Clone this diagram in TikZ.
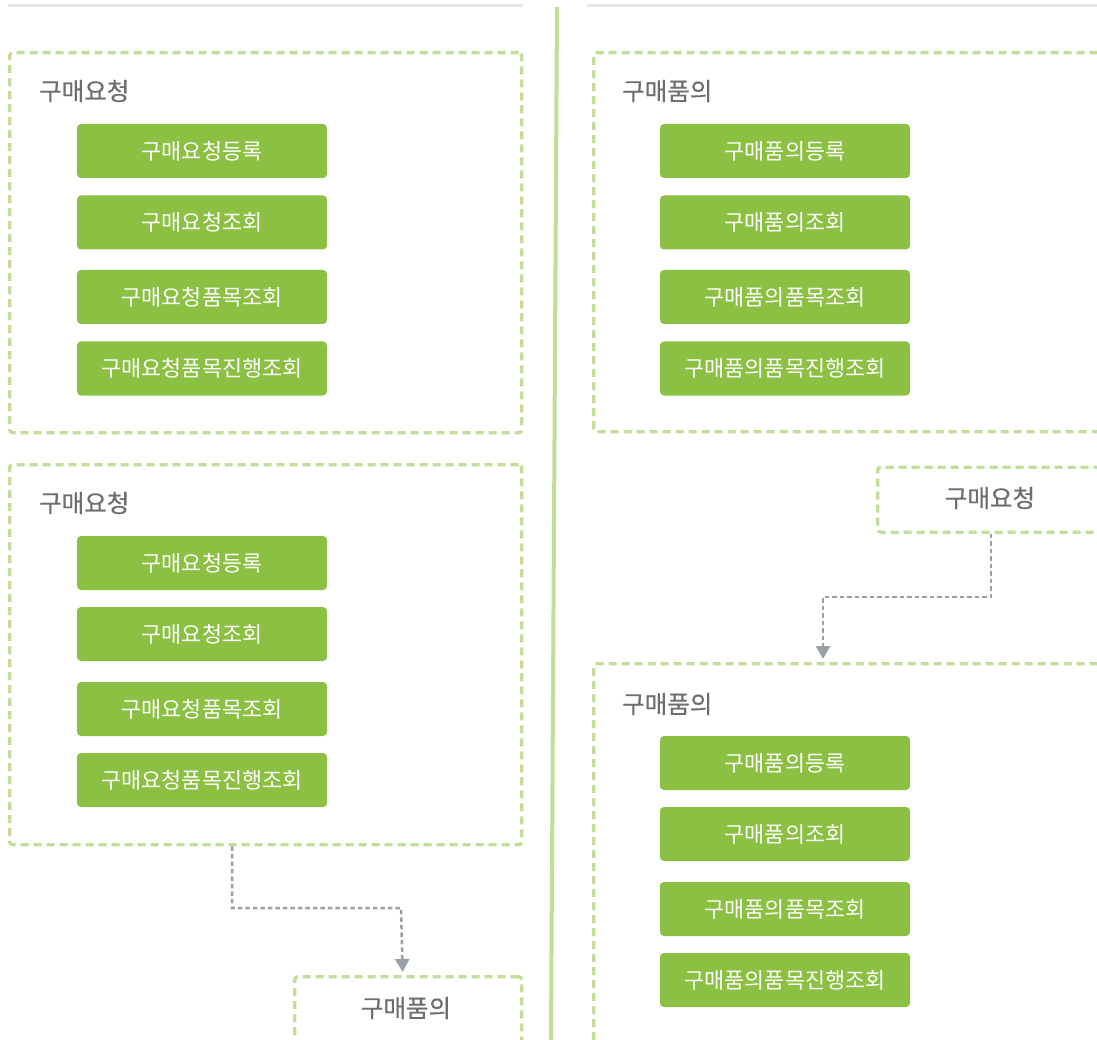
\documentclass[tikz,border=0pt]{standalone}
\usepackage{fontspec}
\setmainfont{Noto Sans CJK KR}
\newfontfamily\titlefont{Noto Sans CJK KR}[FakeBold=0.35]
\usetikzlibrary{arrows.meta}
\definecolor{grn}{HTML}{8BC043}
\definecolor{lgrn}{HTML}{C3DE99}
\definecolor{txtgray}{HTML}{6D6E71}
\definecolor{conncol}{HTML}{9AA0A6}
\definecolor{topline}{HTML}{E6E6E6}
\tikzset{
  groupbox/.style={draw=lgrn, line width=3.4pt, dash pattern=on 8pt off 5pt, rounded corners=3pt, anchor=north west, inner sep=0pt},
  btn/.style={fill=grn, rounded corners=4pt, minimum width=250pt, minimum height=54pt, text=white, font=\fontsize{21.8}{24}\selectfont, inner sep=0pt},
  grptitle/.style={text=txtgray, font=\titlefont\fontsize{24.5}{28}\selectfont, anchor=west, inner sep=0pt},
  boxlabel/.style={text=txtgray, font=\titlefont\fontsize{24.5}{28}\selectfont, inner sep=0pt},
  conn/.style={draw=conncol, line width=2.5pt, dash pattern=on 4.5pt off 3pt, -{Triangle[width=14pt,length=13pt]}, shorten >=3pt},
}
\begin{document}
\begin{tikzpicture}[x=1pt,y=-1pt]
\clip (0,0) rectangle (1097,1040);
\fill[white] (0,0) rectangle (1097,1040);

% top lines and divider
\draw[topline, line width=3pt] (8,6) -- (523,6);
\draw[topline, line width=3pt] (587,6) -- (1097,6);
\draw[lgrn, line width=4pt] (557,7) -- (551,1040);

% left group 1
\node[groupbox, minimum width=512pt, minimum height=380pt] (g1) at (8,51) {};
\node[grptitle] (g1t) at (39,91) {구매요청};
\node[btn] (a1) at (202,151) {구매요청등록};
\node[btn] (a2) at (202,222.5) {구매요청조회};
\node[btn] (a3) at (202,297) {구매요청품목조회};
\node[btn] (a4) at (202,368.5) {구매요청품목진행조회};

% left group 2
\node[groupbox, minimum width=512pt, minimum height=380pt] (g2) at (8,463) {};
\node[grptitle] (g2t) at (39,503) {구매요청};
\node[btn] (b1) at (202,563) {구매요청등록};
\node[btn] (b2) at (202,634) {구매요청조회};
\node[btn] (b3) at (202,709) {구매요청품목조회};
\node[btn] (b4) at (202,780) {구매요청품목진행조회};

% left small box
\node[groupbox, minimum width=227pt, minimum height=90pt] (p1) at (293,975) {};
\node[boxlabel] (p1t) at (406,1008) {구매품의};
\draw[conn] ([xshift=224pt]g2.south west) |- (401,908) -- ([xshift=-5.5pt]p1.north);

% right group 1
\node[groupbox, minimum width=520pt, minimum height=379pt] (h1) at (592,51) {};
\node[grptitle] (h1t) at (622,91) {구매품의};
\node[btn] (c1) at (785,151) {구매품의등록};
\node[btn] (c2) at (785,222.5) {구매품의조회};
\node[btn] (c3) at (785,297) {구매품의품목조회};
\node[btn] (c4) at (785,368.5) {구매품의품목진행조회};

% right small box
\node[groupbox, minimum width=240pt, minimum height=65pt] (r1) at (876,465.5) {};
\node[boxlabel] (r1t) at (990,498) {구매요청};

% right group 2
\node[groupbox, minimum width=520pt, minimum height=400pt] (h2) at (592,662) {};
\node[grptitle] (h2t) at (622,704) {구매품의};
\node[btn] (d1) at (785,763) {구매품의등록};
\node[btn] (d2) at (785,834) {구매품의조회};
\node[btn] (d3) at (785,909) {구매품의품목조회};
\node[btn] (d4) at (785,980) {구매품의품목진행조회};

\draw[conn] ([xshift=115pt]r1.south west) |- (823,597) -- ([xshift=231pt]h2.north west);
\end{tikzpicture}
\end{document}
